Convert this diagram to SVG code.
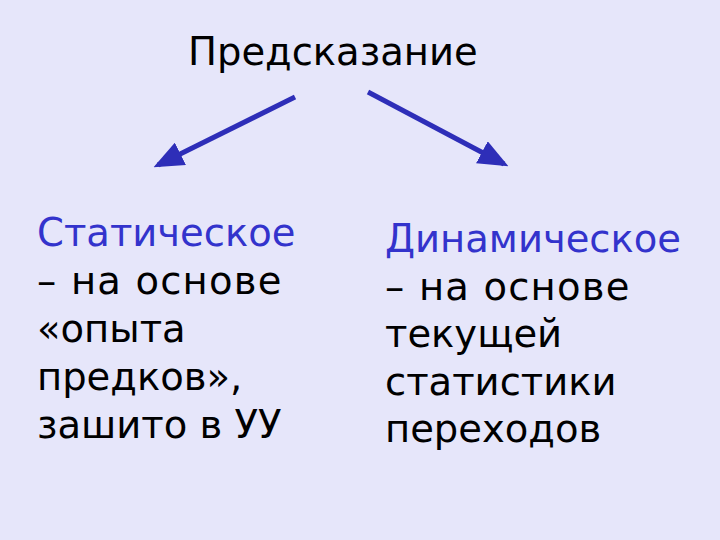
<svg xmlns="http://www.w3.org/2000/svg" width="720" height="540" viewBox="0 0 720 540">
<style>
text{font-family:"DejaVu Sans",Verdana,sans-serif;font-size:38.5px;fill:#000}
.h{fill:#3333cc}
.w{letter-spacing:1.2px}
.c{stroke:#2e2eb8;stroke-width:5;fill:none}
</style>
<defs>
<marker id="ah" markerWidth="6" markerHeight="5" refX="5" refY="2.5" orient="auto" markerUnits="strokeWidth">
<path d="M0,0 L6,2.5 L0,5 Z" fill="#2e2eb8"/>
</marker>
</defs>
<rect width="720" height="540" fill="#e6e6fa"/>
<g id="title"><text x="188" y="65">Предсказание</text></g>
<g id="connectors">
<line class="c" x1="295" y1="97" x2="158" y2="165" marker-end="url(#ah)"/>
<line class="c" x1="368" y1="92" x2="504" y2="164" marker-end="url(#ah)"/>
</g>
<g id="static">
<text x="37" y="246"><tspan class="h">Статическое</tspan><tspan class="w" x="37" dy="48">– на основе</tspan><tspan x="37" dy="48">«опыта</tspan><tspan x="37" dy="48">предков»,</tspan><tspan x="37" dy="48">зашито в УУ</tspan></text>
</g>
<g id="dynamic">
<text x="385" y="252"><tspan class="h">Динамическое</tspan><tspan class="w" x="385" dy="47.5">– на основе</tspan><tspan x="385" dy="47.5">текущей</tspan><tspan x="385" dy="47.5">статистики</tspan><tspan x="385" dy="47.5">переходов</tspan></text>
</g>
</svg>
